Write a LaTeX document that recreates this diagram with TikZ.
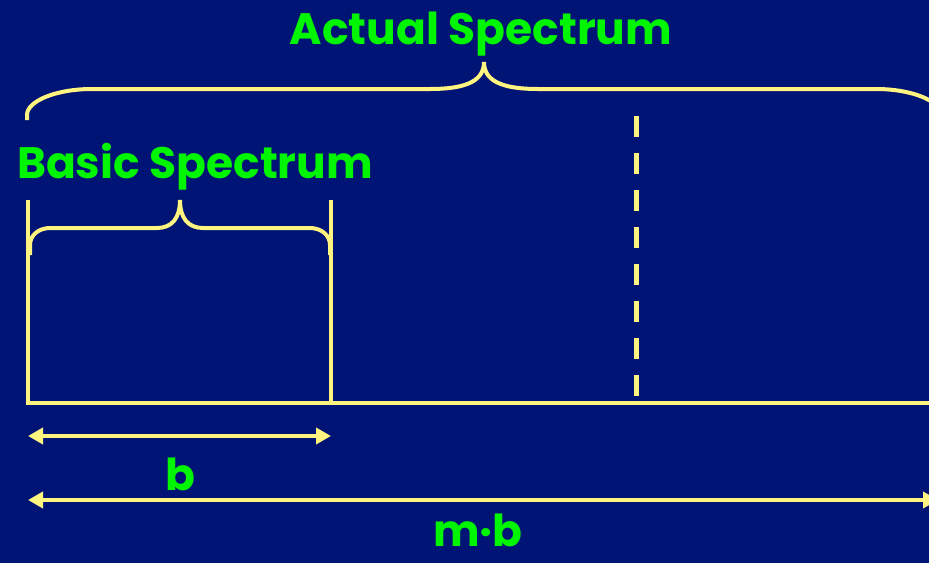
\documentclass[tikz,border=0pt]{standalone}
\usepackage{fontspec}
\setmainfont{Poppins}
\usetikzlibrary{arrows.meta}
\definecolor{slideblue}{RGB}{0,20,117}
\definecolor{specyellow}{RGB}{255,244,128}
\definecolor{specgreen}{RGB}{0,245,0}
\newcommand{\specfont}{\fontsize{44}{50}\selectfont\bfseries}

\begin{document}
\begin{tikzpicture}[x=1pt,y=-1pt,every node/.style={font=\specfont,text=specgreen,anchor=base,inner sep=0pt},
    spec/.style={draw=specyellow,line width=4.5pt},
    span/.style={spec,{Triangle[length=15pt,width=16pt]}-{Triangle[length=15pt,width=16pt]}}]
        \fill[slideblue] (0,0) rectangle (929,563);
        \useasboundingbox (0,0) rectangle (929,563);
        % band edges
        \coordinate (o) at (28,403);
        \coordinate (bb) at (331,403);
        \coordinate (mb) at (636,403);
        \draw[spec] (28,200) -- (o) -- (940,403);
        \draw[spec] (331,200) -- (bb);
        \draw[spec,line width=5pt,dash pattern=on 21pt off 16pt] (636,116) -- (mb);
        % braces
        \draw[spec,line width=4pt] (30,255) -- (30,245) .. controls (30,235) and (39,228) .. (50,228) -- (157,228)
          .. controls (172,228) and (180,218) .. (180,200) .. controls (180,218) and (188,228) .. (203,228)
          -- (310,228) .. controls (321,228) and (330,235) .. (330,245) -- (330,255);
        \draw[spec,line width=4pt] (27,120) -- (27,115) .. controls (27,101) and (56,89) .. (92,89) -- (430,89)
          .. controls (468,89) and (484,80) .. (484,62) .. controls (484,80) and (500,89) .. (538,89)
          -- (876,89) .. controls (912,89) and (941,101) .. (941,115);
        \node (basic) at (195,178) {Basic Spectrum};
        \node (actual) at (481,44) {Actual Spectrum};
        % widths
        \coordinate (b0) at (28,436);
        \coordinate (b1) at (331,436);
        \coordinate (m0) at (28,500);
        \coordinate (m1) at (938,500);
        \draw[span] (b0) -- (b1);
        \draw[span] (m0) -- (m1);
        \node (b) at (180,490) {b};
        \node (mlab) at (478,546) {m·b};
\end{tikzpicture}
\end{document}
